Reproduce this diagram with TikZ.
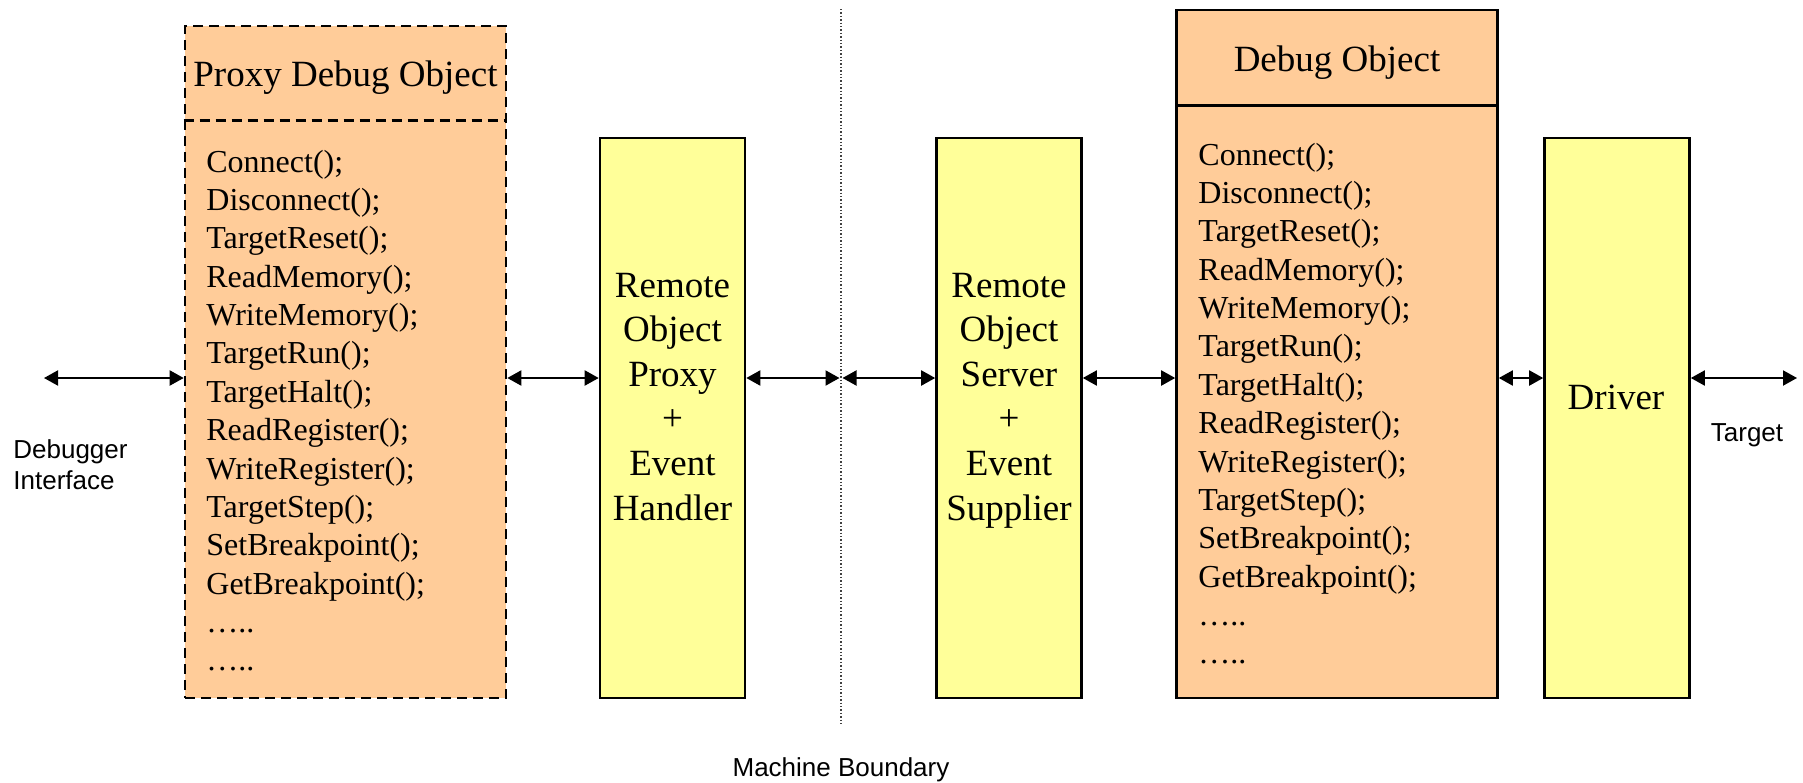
\documentclass[tikz,border=0pt]{standalone}
\usepackage{fontspec}
\setmainfont{Liberation Serif}
\setsansfont{Liberation Sans}
\usepackage{tikz}
\usetikzlibrary{arrows.meta}

\definecolor{objorange}{HTML}{FFCC99}
\definecolor{unityellow}{HTML}{FFFF99}

\begin{document}
\begin{tikzpicture}[x=0.5pt, y=-0.5pt,
    classbox/.style={draw, line width=1.3pt, fill=objorange, inner sep=0pt, minimum width=160.5pt},
    proxyline/.style={dash pattern=on 5pt off 3pt},
    unitbox/.style={draw, line width=1.3pt, fill=unityellow, inner sep=0pt, minimum width=72.5pt, minimum height=280pt},
    title/.style={anchor=base, inner sep=0pt, font=\fontsize{18.5}{22}\selectfont},
    method/.style={anchor=base west, inner sep=0pt, font=\fontsize{16}{19}\selectfont},
    caption/.style={anchor=base, inner sep=0pt, font=\sffamily\fontsize{13}{15.5}\selectfont},
    link/.style={{Triangle[length=7pt,width=7.5pt]}-{Triangle[length=7pt,width=7.5pt]}, line width=1pt}]

    \useasboundingbox (0,0) rectangle (1803,782);

    % machine boundary
    \draw[densely dotted, line width=0.7pt, black!75] (841,9) coordinate (bndtop) -- (841,726) coordinate (bndbot);
    \node[caption] (bndlabel) at (841,776) {Machine Boundary};

    % client side: proxy debug object
    \node[classbox, proxyline, minimum height=336pt] (pbox) at (345.5,362) {};
    \draw[line width=1.3pt, proxyline] ([yshift=-48pt]pbox.north west) -- ([yshift=-48pt]pbox.north east);
    \node[title] (ptitle) at (345.5,86) {Proxy Debug Object};

    \begin{scope}[shift={(206,172)}]
      \node[method] (pm1) at (0,0) {Connect();};
      \node[method] (pm2) at (0,38.4) {Disconnect();};
      \node[method] (pm3) at (0,76.7) {TargetReset();};
      \node[method] (pm4) at (0,115.1) {ReadMemory();};
      \node[method] (pm5) at (0,153.5) {WriteMemory();};
      \node[method] (pm6) at (0,191.9) {TargetRun();};
      \node[method] (pm7) at (0,230.2) {TargetHalt();};
      \node[method] (pm8) at (0,268.6) {ReadRegister();};
      \node[method] (pm9) at (0,307.0) {WriteRegister();};
      \node[method] (pm10) at (0,345.3) {TargetStep();};
      \node[method] (pm11) at (0,383.7) {SetBreakpoint();};
      \node[method] (pm12) at (0,422.1) {GetBreakpoint();};
      \node[method] (pm13) at (0,460.4) {…..};
      \node[method] (pm14) at (0,498.8) {…..};
    \end{scope}

    \node[unitbox] (rop) at (672.5,418) {};
    \begin{scope}[shift={(672.5,297)}]
      \node[title] (rop1) at (0,0) {Remote};
      \node[title] (rop2) at (0,44.6) {Object};
      \node[title] (rop3) at (0,89.2) {Proxy};
      \node[title] (rop4) at (0,133.8) {+};
      \node[title] (rop5) at (0,178.4) {Event};
      \node[title] (rop6) at (0,223) {Handler};
    \end{scope}

    % server side
    \node[unitbox] (ros) at (1009,418) {};
    \begin{scope}[shift={(1009,297)}]
      \node[title] (ros1) at (0,0) {Remote};
      \node[title] (ros2) at (0,44.6) {Object};
      \node[title] (ros3) at (0,89.2) {Server};
      \node[title] (ros4) at (0,133.8) {+};
      \node[title] (ros5) at (0,178.4) {Event};
      \node[title] (ros6) at (0,223) {Supplier};
    \end{scope}

    \node[classbox, minimum height=344pt] (dbox) at (1337,354) {};
    \draw[line width=1.3pt] ([yshift=-48.5pt]dbox.north west) -- ([yshift=-48.5pt]dbox.north east);
    \node[title] (dtitle) at (1337,71) {Debug Object};

    \begin{scope}[shift={(1198,165)}]
      \node[method] (dm1) at (0,0) {Connect();};
      \node[method] (dm2) at (0,38.4) {Disconnect();};
      \node[method] (dm3) at (0,76.7) {TargetReset();};
      \node[method] (dm4) at (0,115.1) {ReadMemory();};
      \node[method] (dm5) at (0,153.5) {WriteMemory();};
      \node[method] (dm6) at (0,191.9) {TargetRun();};
      \node[method] (dm7) at (0,230.2) {TargetHalt();};
      \node[method] (dm8) at (0,268.6) {ReadRegister();};
      \node[method] (dm9) at (0,307.0) {WriteRegister();};
      \node[method] (dm10) at (0,345.3) {TargetStep();};
      \node[method] (dm11) at (0,383.7) {SetBreakpoint();};
      \node[method] (dm12) at (0,422.1) {GetBreakpoint();};
      \node[method] (dm13) at (0,460.4) {…..};
      \node[method] (dm14) at (0,498.8) {…..};
    \end{scope}

    \node[unitbox] (drv) at (1617,418) {};
    \node[title] (drvtext) at (1616,409) {Driver};

    % outer labels
    \node[caption, anchor=base west] (dbgl1) at (13,458) {Debugger};
    \node[caption, anchor=base west] (dbgl2) at (13,489) {Interface};
    \node[caption] (tgtlabel) at (1747,441) {Target};

    % links
    \coordinate (dbgif) at (44,378);
    \coordinate (bndl) at (839.5,378);
    \coordinate (bndr) at (842.5,378);
    \coordinate (tgt) at (1797,378);

    \draw[link] (dbgif) -- (dbgif -| pbox.west);
    \draw[link] (dbgif -| pbox.east) -- (dbgif -| rop.west);
    \draw[link] (dbgif -| rop.east) -- (bndl);
    \draw[link] (bndr) -- (dbgif -| ros.west);
    \draw[link] (dbgif -| ros.east) -- (dbgif -| dbox.west);
    \draw[link] (dbgif -| dbox.east) -- (dbgif -| drv.west);
    \draw[link] (dbgif -| drv.east) -- (tgt);

\end{tikzpicture}
\end{document}
